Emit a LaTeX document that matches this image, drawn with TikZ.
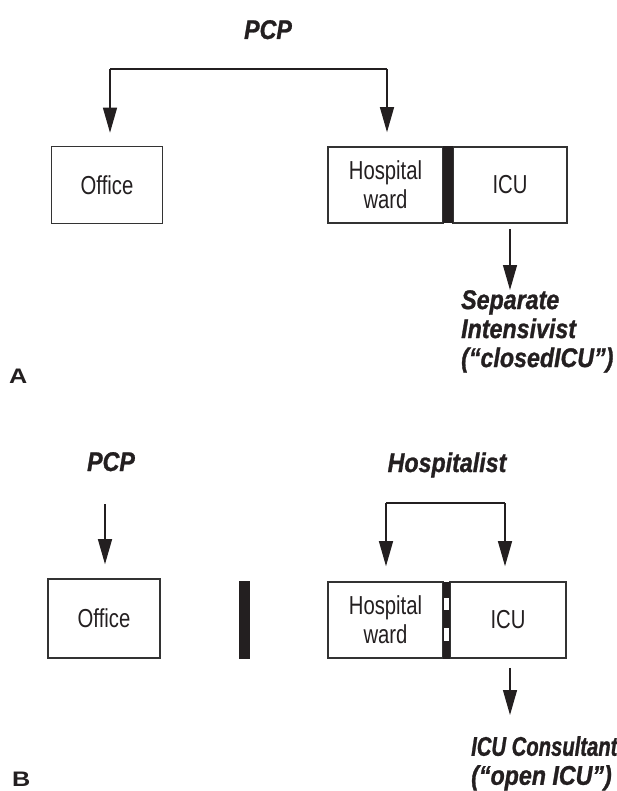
\documentclass[tikz,border=0pt]{standalone}
\usepackage{fontspec}
\setmainfont{Liberation Sans}
\newfontfamily\boxfont[FakeStretch=0.78]{Liberation Sans}
\newfontfamily\labfont[FakeStretch=0.86,BoldItalicFeatures={FakeBold=1}]{Liberation Sans}
\newfontfamily\labnarrow[FakeStretch=0.75,BoldItalicFeatures={FakeBold=1}]{Liberation Sans}
\newfontfamily\panelfont[FakeStretch=1.2]{Liberation Sans}
\usetikzlibrary{arrows.meta}

\definecolor{ink}{HTML}{231F20}
\definecolor{edge}{HTML}{333333}

\tikzset{
  place/.style={draw=edge, line width=1.6pt, inner sep=0pt, align=center,
    font=\boxfont\fontsize{26}{29}\selectfont, text=ink},
  wall/.style={fill=ink, draw=none, inner sep=0pt},
  arr/.style={draw=ink, line width=1.3pt, -{Triangle[length=25pt,width=14pt]}},
  link/.style={draw=ink, line width=1.3pt},
  role/.style={font=\labfont\bfseries\itshape\fontsize{27}{29}\selectfont,
    text=ink, inner sep=0pt, align=left},
  panel/.style={font=\panelfont\bfseries\fontsize{21}{21}\selectfont,
    text=ink, inner sep=0pt}
}

\begin{document}
\begin{tikzpicture}[x=1pt,y=-1pt]
\useasboundingbox (0,0) rectangle (617,791);

% ---------- Panel A: closed ICU ----------
\node[role, anchor=base] (pcpA) at (268,39) {PCP};
\node[place, minimum width=111, minimum height=77] (officeA) at (107,185) {Office};
\node[place, minimum width=115, minimum height=76] (wardA) at (385.5,185) {Hospital\\ward};
\node[place, minimum width=114, minimum height=76] (icuA) at (510,185) {ICU};
\node[wall, minimum width=10, minimum height=77] (barA) at (448,185) {};

\coordinate (brA1) at (110,69);
\coordinate (brA2) at (387,69);
\draw[link] (brA1) -- (brA2);
\draw[arr, shorten >=13pt] (brA1) -- (brA1 |- officeA.north);
\draw[arr, shorten >=14pt] (brA2) -- (brA2 |- wardA.north);

\node[role, anchor=north west] (intA) at (461,290)
  {Separate\\Intensivist\\(“closedICU”)};
\draw[arr, shorten <=5pt] (icuA.south) -- (icuA.south |- intA.north);

\node[panel, anchor=base west] (tagA) at (9,383) {A};

% ---------- Panel B: open ICU ----------
\node[role, anchor=base] (pcpB) at (111,471) {PCP};
\node[role, anchor=base] (hospB) at (447,472) {Hospitalist};

\node[place, minimum width=112, minimum height=79] (officeB) at (104,618.5) {Office};
\node[wall, minimum width=11, minimum height=78] (barB) at (244.5,620) {};
\node[place, minimum width=115, minimum height=76] (wardB) at (385.5,620) {Hospital\\ward};
\node[place, minimum width=116, minimum height=76] (icuB) at (508,620) {ICU};

% partial (broken) wall between ward and ICU
\node[wall, minimum width=7, minimum height=77] (gateB) at (446.5,620) {};
\fill[white] (444.3,598) rectangle (448.7,610);
\fill[white] (444.3,628) rectangle (448.7,641);

\coordinate (pcpBtop) at (105,504);
\draw[arr, shorten >=14pt] (pcpBtop) -- (pcpBtop |- officeB.north);

\coordinate (brB1) at (386,503);
\coordinate (brB2) at (505,503);
\draw[link] (brB1) -- (brB2);
\draw[arr, shorten >=15pt] (brB1) -- (brB1 |- wardB.north);
\draw[arr, shorten >=15pt] (brB2) -- (brB2 |- icuB.north);

\node[role, anchor=north west] (consB) at (471,736)
  {{\labnarrow\bfseries\itshape ICU Consultant}\\(“open ICU”)};
\coordinate (consTop) at (510,715);
\draw[arr, shorten <=9pt] (consTop |- icuB.south) -- (consTop);

\node[panel, anchor=base west] (tagB) at (12,786.5) {B};
\end{tikzpicture}
\end{document}
